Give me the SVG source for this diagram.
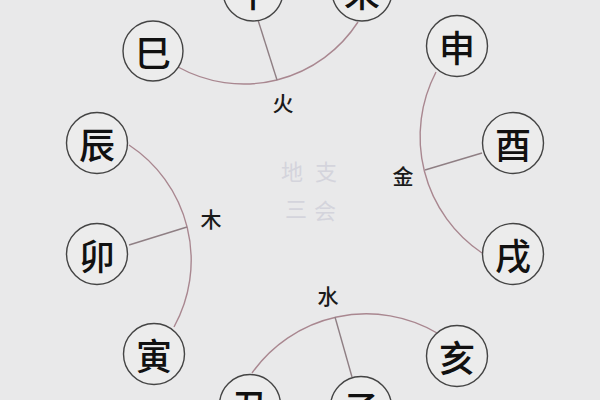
<svg xmlns="http://www.w3.org/2000/svg" width="600" height="400" viewBox="0 0 600 400">
<style>
.bg{fill:#e9e9ea}
.arc{fill:none;stroke:#a98790;stroke-width:1.4}
.spoke{fill:none;stroke:#8f7f84;stroke-width:1.4}
.node circle{fill:#ececec;stroke:#444;stroke-width:1.4}
.node text{font-family:"Noto Sans CJK SC","Noto Sans CJK JP",sans-serif;font-size:36px;font-weight:500;fill:#111;text-anchor:middle;dominant-baseline:central}
.lbl{font-family:"Noto Sans CJK SC","Noto Sans CJK JP",sans-serif;font-size:21px;font-weight:500;fill:#1a1a1a;text-anchor:middle;dominant-baseline:central}
.title{font-family:"Noto Sans CJK SC","Noto Sans CJK JP",sans-serif;font-size:22px;fill:#d4d4dc;text-anchor:middle;dominant-baseline:central}
</style>
<rect class="bg" x="0" y="0" width="600" height="400"/>
<g id="connectors">
<path class="arc" d="M178,67 A136,136 0 0 0 358,22"/>
<path class="spoke" d="M258,20 L277,80"/>
<path class="arc" d="M436,72 A140,140 0 0 0 482,253"/>
<path class="spoke" d="M482,153 L425,170"/>
<path class="arc" d="M129,145 A138,138 0 0 1 174,327"/>
<path class="spoke" d="M129,245 L187,227"/>
<path class="arc" d="M252,373 A140,140 0 0 1 437,333"/>
<path class="spoke" d="M335,317 L352,377"/>
</g>
<g id="labels">
<text class="lbl" x="283" y="102">火</text>
<text class="lbl" x="403" y="175">金</text>
<text class="lbl" x="211" y="218">木</text>
<text class="lbl" x="328" y="295">水</text>
</g>
<g id="title">
<text class="title" x="292" y="170">地</text>
<text class="title" x="326" y="170">支</text>
<text class="title" x="296" y="207">三</text>
<text class="title" x="325" y="209">会</text>
</g>
<g id="node-si" class="node"><circle cx="153" cy="51" r="30"/><text x="153" y="51">巳</text></g>
<g id="node-wu" class="node"><circle cx="253" cy="-9" r="30"/><text x="253" y="-9">午</text></g>
<g id="node-wei" class="node"><circle cx="362" cy="-9" r="30"/><text x="362" y="-9">未</text></g>
<g id="node-shen" class="node"><circle cx="457" cy="46" r="30.5"/><text x="457" y="46">申</text></g>
<g id="node-you" class="node"><circle cx="513" cy="143" r="30.5"/><text x="513" y="143">酉</text></g>
<g id="node-xu" class="node"><circle cx="513" cy="254" r="30.5"/><text x="513" y="254">戌</text></g>
<g id="node-hai" class="node"><circle cx="457" cy="356" r="30.5"/><text x="457" y="356">亥</text></g>
<g id="node-zi" class="node"><circle cx="361" cy="407" r="30.5"/><text x="361" y="407">子</text></g>
<g id="node-chou" class="node"><circle cx="250" cy="405" r="30.5"/><text x="250" y="405">丑</text></g>
<g id="node-yin" class="node"><circle cx="154" cy="354" r="30.5"/><text x="154" y="354">寅</text></g>
<g id="node-mao" class="node"><circle cx="97" cy="254" r="30.5"/><text x="97" y="254">卯</text></g>
<g id="node-chen" class="node"><circle cx="97" cy="143" r="30.5"/><text x="97" y="143">辰</text></g>
</svg>
